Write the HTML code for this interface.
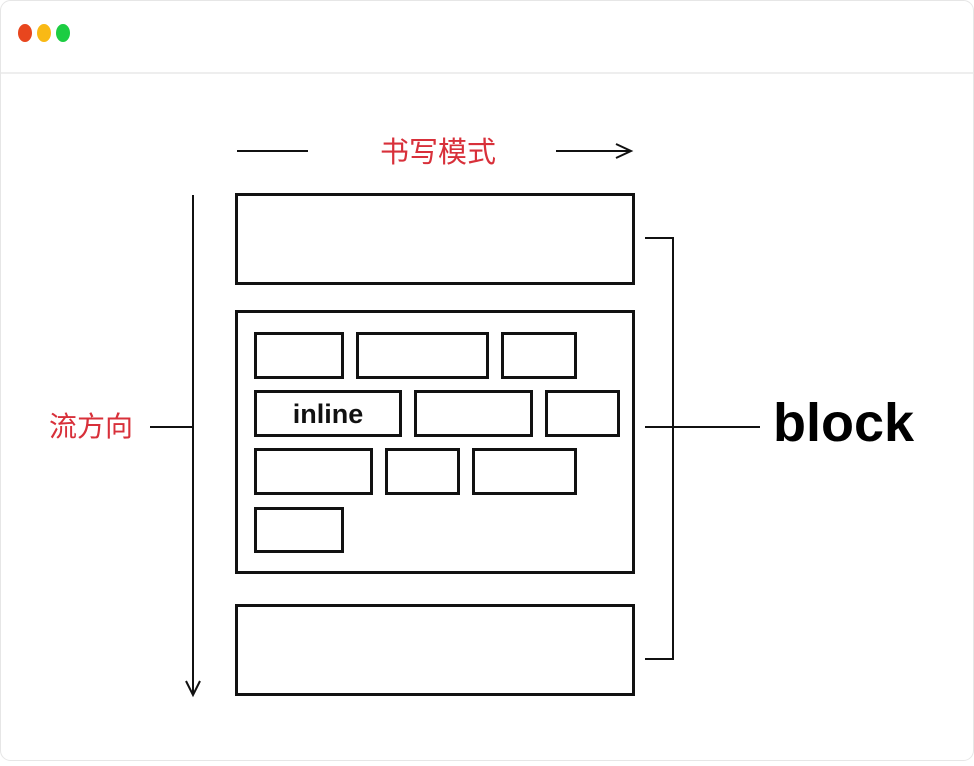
<!DOCTYPE html>
<html><head><meta charset="utf-8"><style>
body{margin:0;background:#fff;width:974px;height:761px;overflow:hidden}
</style></head><body>
<svg width="974" height="761" xmlns="http://www.w3.org/2000/svg">
<rect x="0.5" y="0.5" width="973" height="760" rx="10" fill="#fff" stroke="#e6e6e6"/>
<line x1="1" y1="73" x2="973" y2="73" stroke="#eeeeee" stroke-width="2"/>
<ellipse cx="25" cy="33" rx="7" ry="9" fill="#e8461e"/>
<ellipse cx="44" cy="33" rx="7" ry="9" fill="#f9b915"/>
<ellipse cx="63" cy="33" rx="7" ry="9" fill="#1ccd42"/>
<g stroke="#111" stroke-width="2" fill="none">
<line x1="237" y1="151" x2="308" y2="151"/>
<line x1="556" y1="151" x2="631" y2="151"/>
<polyline points="616,144 631,151 616,158"/>
<line x1="193" y1="195" x2="193" y2="695"/>
<polyline points="186,681 193,695 200,681"/>
<line x1="150" y1="427" x2="193" y2="427"/>
<polyline points="645,238 673,238 673,659 645,659"/>
<line x1="645" y1="427" x2="760" y2="427"/>
</g>
<g stroke="#111" stroke-width="3" fill="none">
<rect x="236.5" y="194.5" width="397" height="89"/>
<rect x="236.5" y="311.5" width="397" height="261"/>
<rect x="236.5" y="605.5" width="397" height="89"/>
<rect x="255.5" y="333.5" width="87" height="44"/>
<rect x="357.5" y="333.5" width="130" height="44"/>
<rect x="502.5" y="333.5" width="73" height="44"/>
<rect x="255.5" y="391.5" width="145" height="44"/>
<rect x="415.5" y="391.5" width="116" height="44"/>
<rect x="546.5" y="391.5" width="72" height="44"/>
<rect x="255.5" y="449.5" width="116" height="44"/>
<rect x="386.5" y="449.5" width="72" height="44"/>
<rect x="473.5" y="449.5" width="102" height="44"/>
<rect x="255.5" y="508.5" width="87" height="43"/>
</g>
<text x="328" y="423" text-anchor="middle" font-family="Liberation Sans, sans-serif" font-weight="bold" font-size="27" fill="#111">inline</text>
<text x="773" y="441" font-family="Liberation Sans, sans-serif" font-weight="bold" font-size="54" fill="#000">block</text>
<text x="438" y="162" text-anchor="middle" font-family="Liberation Sans, 'Noto Sans CJK SC', sans-serif" font-size="29" fill="#d8303a">书写模式</text>
<text x="91" y="436" text-anchor="middle" font-family="Liberation Sans, 'Noto Sans CJK SC', sans-serif" font-size="28" fill="#d8303a">流方向</text>
</svg>
</body></html>
